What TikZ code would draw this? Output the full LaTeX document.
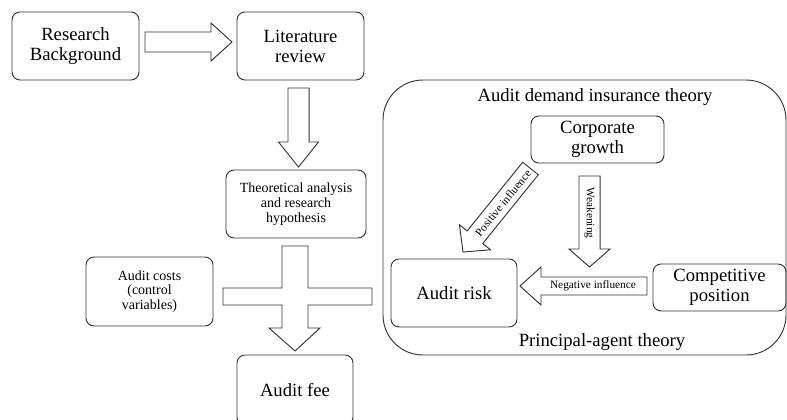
\documentclass[tikz,border=0pt]{standalone}
\usepackage{fontspec}
\setmainfont{Liberation Serif}
\usepackage{tikz}
\usetikzlibrary{calc}

\tikzset{
  box/.style={draw=black!80, line width=0.7pt, rounded corners=6pt, align=center, inner sep=2pt},
  bigfont/.style={font=\fontsize{14}{15}\selectfont},
  smallfont/.style={font=\fontsize{10.5}{11}\selectfont},
  tinyfont/.style={font=\fontsize{8.5}{9}\selectfont},
  arrowline/.style={draw=black!80, line width=0.7pt, line join=miter}
}

% block arrow: tail, tip, shaft half width, head half width, head length
\newcommand{\blockarrow}[5]{%
  \coordinate (hb) at ($(#2)!#5!(#1)$);
  \draw[arrowline] ($(#1)!#3!90:(#2)$) -- ($(hb)!#3!90:(#2)$) -- ($(hb)!#4!90:(#2)$) -- (#2)
    -- ($(hb)!#4!-90:(#2)$) -- ($(hb)!#3!-90:(#2)$) -- ($(#1)!#3!-90:(#2)$) -- cycle;
}

\begin{document}
\begin{tikzpicture}[x=0.75pt, y=-0.75pt]
        \useasboundingbox (0,0) rectangle (787,419);

        % Left column
        \node[box, bigfont, minimum width=95.25pt, minimum height=51pt] (rb) at (75.5,46) {Research\\Background};
        \node[box, bigfont, minimum width=95.25pt, minimum height=51pt] (lr) at (300.5,46) {Literature\\review};
        \node[box, smallfont, minimum width=105pt, minimum height=51pt] (ta) at (296,204) {Theoretical analysis\\and research\\hypothesis};
        \node[box, smallfont, minimum width=95.25pt, minimum height=51.75pt] (ac) at (149.5,291.5) {Audit costs\\(control\\variables)};
        \node[box, bigfont, minimum width=87pt, minimum height=52.5pt] (af) at (295,390) {Audit fee};

        % Theory frame
        \node[draw=black!80, line width=0.7pt, rounded corners=30pt, minimum width=302.25pt, minimum height=206.25pt] (frame) at (584.5,217.5) {};
        \node[bigfont] (demand) at (595,97) {Audit demand insurance theory};
        \node[bigfont] (agent) at (602,342) {Principal-agent theory};
        \node[box, bigfont, minimum width=99.75pt, minimum height=35.25pt] (cg) at (597.5,139.5) {Corporate\\growth};
        \node[box, bigfont, minimum width=94.5pt, minimum height=51pt] (ar) at (454,293) {Audit risk};
        \node[box, bigfont, minimum width=99.75pt, minimum height=35.25pt] (cp) at (719.5,287.5) {Competitive\\position};

        % Arrow ends
        \coordinate (rbout) at (145,42);
        \coordinate (lrin) at (232,42);
        \coordinate (lrout) at (298.5,88);
        \coordinate (tain) at (298.5,167);
        \coordinate (cgout) at (589.5,176);
        \coordinate (weakin) at (589.5,267);
        \coordinate (cpout) at (647,286);
        \coordinate (arin) at (520,286);
        \coordinate (posout) at (530.5,168.5);
        \coordinate (posin) at (463,252);

        % Block arrows
        \blockarrow{rbout}{lrin}{7.5pt}{14.25pt}{15.75pt}
        \blockarrow{lrout}{tain}{7.9pt}{15pt}{18.75pt}
        \blockarrow{cgout}{weakin}{7.9pt}{15.4pt}{13.5pt}
        \blockarrow{cpout}{arin}{6.75pt}{14.25pt}{15.75pt}
        \blockarrow{posout}{posin}{7.5pt}{15pt}{14.25pt}

        % Cross arrow into audit fee
        \draw[arrowline] (282,246) -- (308,246) -- (308,288) -- (372,288) -- (372,305) -- (308,305)
          -- (308,328) -- (320,328) -- (295,351) -- (269,328) -- (282,328) -- (282,305)
          -- (223,305) -- (223,288) -- (282,288) -- cycle;

        % Arrow labels
        \node[tinyfont, rotate=-90] (weak) at (589.5,213) {Weakening};
        \node[tinyfont] (neg) at (593,286) {Negative influence};
        \node[tinyfont, rotate=51] (pos) at (503,203) {Positive influence};
\end{tikzpicture}
\end{document}
